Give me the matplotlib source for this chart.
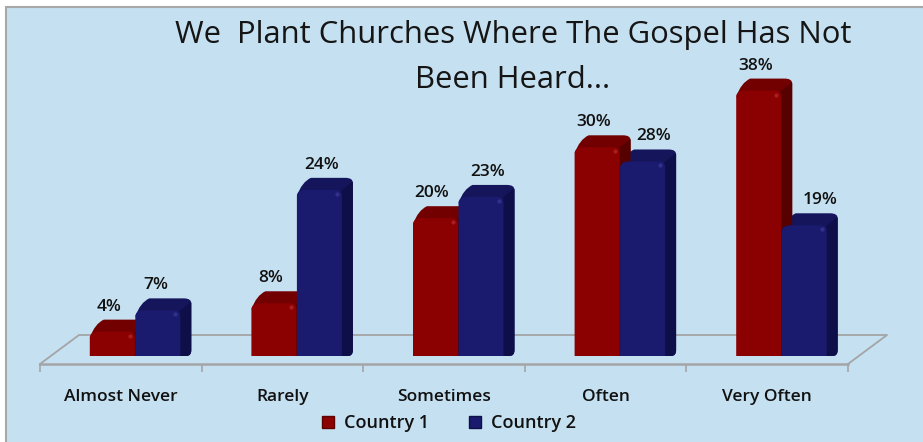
import matplotlib
matplotlib.use('Agg')
import matplotlib.pyplot as plt
from matplotlib.patches import Patch, PathPatch, Rectangle
from matplotlib.path import Path

# data
categories = ['Almost Never', 'Rarely', 'Sometimes', 'Often', 'Very Often']
country_1 = [4, 8, 20, 30, 38]
country_2 = [7, 24, 23, 28, 19]
series_names = ['Country 1', 'Country 2']

title_lines = ['We  Plant Churches Where The Gospel Has Not', 'Been Heard...']

plt.rcParams['font.family'] = ['Open Sans', 'DejaVu Sans']

W, H = 923, 442
BG = '#c5e0f0'
GRID = '#a3a5a6'
RED = ['#8b0000', '#560000', '#720000', '#b52a2a']    # front, side, top, highlight
BLUE = ['#1a1a6e', '#0e0e48', '#15155c', '#3c3c9a']

fig = plt.figure(figsize=(W / 100, H / 100), dpi=100, facecolor='white')
fig.patches.append(Rectangle((6 / W, -0.05), 1, 1.05 - 7 / H, transform=fig.transFigure,
                             facecolor=BG, edgecolor='#a8a8a8', linewidth=1.5, zorder=-1))

# axes bottom edge is the front of the floor, value 0 sits 3px above it
px_per_pct = 7.09
ax = fig.add_axes([40 / W, (H - 364) / H, 808 / W, 344 / H])
ax.patch.set_alpha(0)
ax.set_xlim(-0.5, 4.5)
ax.set_ylim(-3 / px_per_pct, 341 / px_per_pct)

ux = 1 / 161.6             # one pixel in x data units
uy = 1 / px_per_pct        # one pixel in y data units
bar_w = 45 * ux
dx, dy = 11 * ux, 13 * uy
base = 5 * uy              # bars stand slightly inside the floor


def draw_bar(x0, val, cols):
    x1 = x0 + bar_w
    r = 5 * ux
    rv = 5 * uy
    # side + top outline, rounded
    back = [
        (Path.MOVETO, (x1 - 2 * ux, base)),
        (Path.LINETO, (x1 + dx - 5 * ux, base)),
        (Path.CURVE3, (x1 + dx, base)),
        (Path.CURVE3, (x1 + dx, base + dy * 0.45)),
        (Path.LINETO, (x1 + dx, val + dy - rv)),
        (Path.CURVE3, (x1 + dx, val + dy)),
        (Path.CURVE3, (x1 + dx - r * 1.5, val + dy)),
        (Path.LINETO, (x0 + dx + 3 * ux, val + dy)),
        (Path.CURVE3, (x0 + 5 * ux, val + dy - 4 * uy)),
        (Path.CURVE3, (x0, val - rv)),
        (Path.LINETO, (x1 - 2 * ux, val - rv)),
        (Path.CLOSEPOLY, (x1 - 2 * ux, base)),
    ]
    codes, verts = zip(*back)
    ax.add_patch(PathPatch(Path(verts, codes), facecolor=cols[2], edgecolor='none',
                           clip_on=False, zorder=3))
    # darker side strip
    side = [
        (Path.MOVETO, (x1 - 1 * ux, base)),
        (Path.LINETO, (x1 + dx - 5 * ux, base)),
        (Path.CURVE3, (x1 + dx, base)),
        (Path.CURVE3, (x1 + dx, base + dy * 0.45)),
        (Path.LINETO, (x1 + dx, val + dy - rv)),
        (Path.CURVE3, (x1 + dx, val + dy * 0.8)),
        (Path.CURVE3, (x1 + dx - 4 * ux, val + dy * 0.5)),
        (Path.LINETO, (x1 - 1 * ux, val)),
        (Path.CLOSEPOLY, (x1 - 1 * ux, base)),
    ]
    codes, verts = zip(*side)
    ax.add_patch(PathPatch(Path(verts, codes), facecolor=cols[1], edgecolor='none',
                           clip_on=False, zorder=3.2))
    # front face, rounded at the top left
    front = [
        (Path.MOVETO, (x0, base)),
        (Path.LINETO, (x0, val - rv)),
        (Path.CURVE3, (x0, val)),
        (Path.CURVE3, (x0 + r * 1.5, val + 1 * uy)),
        (Path.LINETO, (x1 - r, val + 1 * uy)),
        (Path.CURVE3, (x1, val + 1 * uy)),
        (Path.CURVE3, (x1, val - rv)),
        (Path.LINETO, (x1, base)),
        (Path.CLOSEPOLY, (x0, base)),
    ]
    codes, verts = zip(*front)
    ax.add_patch(PathPatch(Path(verts, codes), facecolor=cols[0], edgecolor='none',
                           clip_on=False, zorder=3.5))
    # small shine near the top corner
    ax.plot([x1 - 5 * ux], [val - 3 * uy], marker='o', ms=3, mew=0, color=cols[3], alpha=0.7,
            clip_on=False, zorder=3.6)


for i, (a, b) in enumerate(zip(country_1, country_2)):
    draw_bar(i - 31 * ux, a, RED)
    draw_bar(i - 31 * ux + bar_w + 0.5 * ux, b, BLUE)
    # blue labels drift right across the chart
    for off, v in ((-12, a), (35 + 4.5 * i, b)):
        ax.text(i + off * ux, v + dy + 13 * uy, '%d%%' % v, ha='center', va='center',
                fontsize=12.5, fontweight='semibold', color='#111111', clip_on=False, zorder=5)

# floor of the 3d chart
y0 = -3 * uy
y1 = 26 * uy
sx = 39 * ux
ax.plot([-0.5, -0.5 + sx, 4.5 + sx, 4.5], [y0, y1, y1, y0], color=GRID, lw=1.3,
        clip_on=False, zorder=1)

for s in ('top', 'right', 'left'):
    ax.spines[s].set_visible(False)
ax.spines['bottom'].set_color(GRID)
ax.spines['bottom'].set_linewidth(1.8)
ax.set_yticks([])
ax.set_xticks([i - 0.5 for i in range(len(categories) + 1)])
ax.set_xticklabels([])
ax.tick_params(axis='x', which='major', color=GRID, length=6, width=1.2)
ax.set_xticks(range(len(categories)), categories, minor=True)
ax.tick_params(axis='x', which='minor', length=0, pad=18, labelsize=12.5, labelcolor='#111111')
for lab in ax.get_xticklabels(minor=True):
    lab.set_fontweight('semibold')

handles = [Patch(facecolor=RED[0], edgecolor='#5c0000', label=series_names[0]),
           Patch(facecolor=BLUE[0], edgecolor='#0e0e48', label=series_names[1])]
fig.legend(handles=handles, loc='center', bbox_to_anchor=(449 / W, 1 - 423 / H), ncol=2,
           frameon=False, handlelength=0.65, handleheight=0.65, handletextpad=0.55,
           columnspacing=2.2, prop={'size': 13, 'weight': 'semibold'}, labelcolor='#111111')

fig.text(513 / W, 1 - 34.5 / H, title_lines[0], ha='center', va='center', fontsize=22.3, color='#151515')
fig.text(513 / W, 1 - 80.5 / H, title_lines[1], ha='center', va='center', fontsize=22.3, color='#151515')

fig.savefig('out.png', dpi=100, facecolor='white')
